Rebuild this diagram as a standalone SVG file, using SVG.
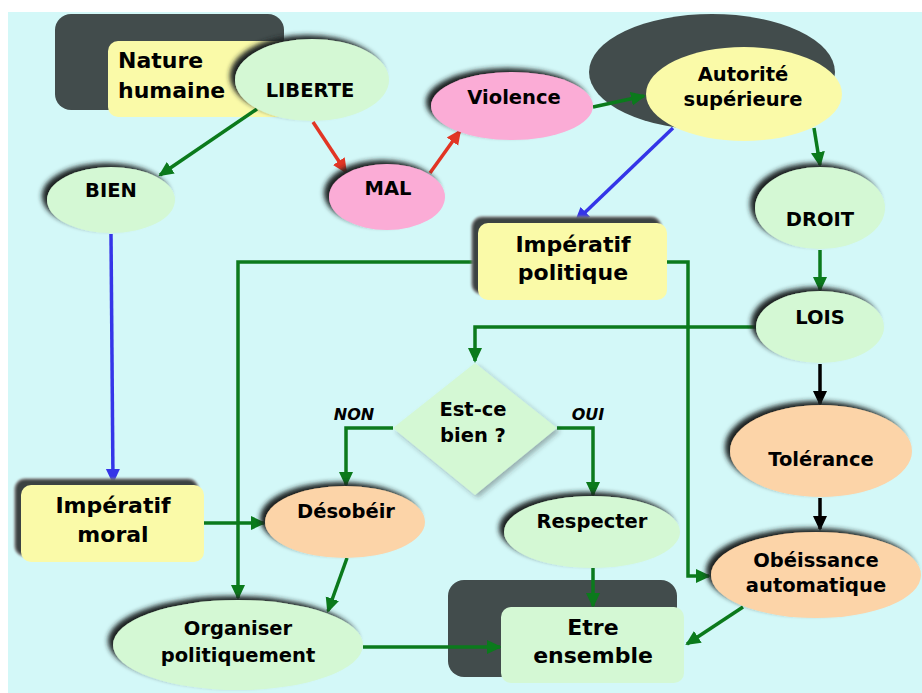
<svg xmlns="http://www.w3.org/2000/svg" width="922" height="693" viewBox="0 0 922 693">
<defs>
<style>
text{font-family:"DejaVu Sans","Verdana",sans-serif;font-weight:bold;fill:#000;text-anchor:middle}
.t{font-size:19.5px}
.r{font-size:22px}
.lab{font-size:16px;font-style:italic}
.g{fill:#d4f8d4}
.p{fill:#fbacd6}
.o{fill:#fcd4a8}
.y{fill:#fafaa8}
.dk{fill:#424c4c}
.c{fill:none;stroke-width:3.5}
.cg{stroke:#0b7a1c}
.cr{stroke:#e23524}
.cb{stroke:#3535e8}
.ck{stroke:#000}
</style>
<filter id="sh" x="-20%" y="-30%" width="140%" height="160%">
<feGaussianBlur in="SourceAlpha" stdDeviation="2.5"/>
<feOffset dx="-5" dy="-4" result="b"/>
<feFlood flood-color="#1e2424" flood-opacity="1"/>
<feComposite in2="b" operator="in"/>
<feMerge><feMergeNode/><feMergeNode in="SourceGraphic"/></feMerge>
</filter>
<filter id="shl" x="-20%" y="-30%" width="140%" height="160%">
<feGaussianBlur in="SourceAlpha" stdDeviation="2.5"/>
<feOffset dx="3" dy="3" result="b"/>
<feFlood flood-color="#2a3030" flood-opacity="0.35"/>
<feComposite in2="b" operator="in"/>
<feMerge><feMergeNode/><feMergeNode in="SourceGraphic"/></feMerge>
</filter>
<filter id="bl"><feGaussianBlur stdDeviation="1.2"/></filter>
<marker id="ag" markerUnits="userSpaceOnUse" markerWidth="16" markerHeight="16" refX="13" refY="8" orient="auto"><path d="M0,1 L15,8 L0,15 z" fill="#0b7a1c"/></marker>
<marker id="ar" markerUnits="userSpaceOnUse" markerWidth="16" markerHeight="16" refX="13" refY="8" orient="auto"><path d="M0,1 L15,8 L0,15 z" fill="#e23524"/></marker>
<marker id="ab" markerUnits="userSpaceOnUse" markerWidth="16" markerHeight="16" refX="13" refY="8" orient="auto"><path d="M0,1 L15,8 L0,15 z" fill="#3535e8"/></marker>
<marker id="ak" markerUnits="userSpaceOnUse" markerWidth="16" markerHeight="16" refX="13" refY="8" orient="auto"><path d="M0,1 L15,8 L0,15 z" fill="#000"/></marker>
</defs>
<rect x="0" y="0" width="922" height="693" fill="#fff"/>
<rect x="8" y="12" width="914" height="681" fill="#d3f8f8"/>

<g id="nature-humaine">
<rect class="dk" x="55" y="14" width="229" height="96" rx="16"/>
<rect class="y" x="108" y="41" width="180" height="76" rx="10"/>
<text class="r" x="118" y="68" style="text-anchor:start">Nature</text>
<text class="r" x="118" y="98" style="text-anchor:start">humaine</text>
</g>

<g id="autorite-back">
<ellipse class="dk" cx="712" cy="72" rx="123" ry="58"/>
</g>

<g id="etre-back">
<rect class="dk" x="448" y="580" width="229" height="97" rx="16"/>
</g>

<g id="connectors">
<line class="c cg" x1="257" y1="109" x2="160" y2="175" marker-end="url(#ag)"/>
<line class="c cr" x1="313" y1="122" x2="346" y2="172" marker-end="url(#ar)"/>
<line class="c cr" x1="430" y1="173" x2="460" y2="131" marker-end="url(#ar)"/>
<line class="c cg" x1="593" y1="107" x2="644" y2="96" marker-end="url(#ag)"/>
<line class="c cb" x1="673" y1="128" x2="576" y2="221" marker-end="url(#ab)"/>
<line class="c cg" x1="814" y1="128" x2="820" y2="165" marker-end="url(#ag)"/>
<line class="c cb" x1="111" y1="234" x2="113" y2="482" marker-end="url(#ab)"/>
<line class="c cg" x1="820" y1="250" x2="820" y2="290" marker-end="url(#ag)"/>
<line class="c ck" x1="820" y1="364" x2="820" y2="404" marker-end="url(#ak)"/>
<line class="c ck" x1="820" y1="498" x2="820" y2="529" marker-end="url(#ak)"/>
<polyline class="c cg" points="757,327 475,327 475,361" marker-end="url(#ag)"/>
<polyline class="c cg" points="478,262 238,262 238,598" marker-end="url(#ag)"/>
<polyline class="c cg" points="667,262 688,262 688,576 709,576" marker-end="url(#ag)"/>
<polyline class="c cg" points="393,428 346,428 346,485" marker-end="url(#ag)"/>
<polyline class="c cg" points="557,428 593,428 593,495" marker-end="url(#ag)"/>
<line class="c cg" x1="204" y1="523" x2="264" y2="523" marker-end="url(#ag)"/>
<line class="c cg" x1="347" y1="558" x2="328" y2="611" marker-end="url(#ag)"/>
<line class="c cg" x1="593" y1="568" x2="593" y2="606" marker-end="url(#ag)"/>
<line class="c cg" x1="363" y1="647" x2="500" y2="647" marker-end="url(#ag)"/>
<line class="c cg" x1="743" y1="607" x2="687" y2="644" marker-end="url(#ag)"/>
</g>

<g id="liberte">
<ellipse class="g" cx="312" cy="80" rx="77" ry="41" filter="url(#sh)"/>
<text class="t" x="310" y="97">LIBERTE</text>
</g>
<g id="bien">
<ellipse class="g" cx="111" cy="200" rx="64" ry="33" filter="url(#sh)"/>
<text class="t" x="111" y="197">BIEN</text>
</g>
<g id="mal">
<ellipse class="p" cx="387" cy="197" rx="58" ry="33" filter="url(#sh)"/>
<text class="t" x="388" y="195">MAL</text>
</g>
<g id="violence">
<ellipse class="p" cx="512" cy="106" rx="81" ry="34" filter="url(#sh)"/>
<text class="t" x="514" y="104">Violence</text>
</g>
<g id="autorite">
<ellipse class="y" cx="744" cy="94" rx="98" ry="47"/>
<text class="t" x="743" y="81">Autorité</text>
<text class="t" x="743" y="106">supérieure</text>
</g>
<g id="droit">
<ellipse class="g" cx="820" cy="208" rx="65" ry="41" filter="url(#sh)"/>
<text class="t" x="820" y="226">DROIT</text>
</g>
<g id="imperatif-politique">
<rect x="472" y="217" width="189" height="77" rx="10" fill="#3a4242" stroke="#888" stroke-width="1.5" filter="url(#bl)"/>
<rect class="y" x="478" y="223" width="189" height="77" rx="10"/>
<text class="r" x="573" y="252">Impératif</text>
<text class="r" x="573" y="280">politique</text>
</g>
<g id="lois">
<ellipse class="g" cx="820" cy="327" rx="64" ry="36" filter="url(#sh)"/>
<text class="t" x="820" y="324">LOIS</text>
</g>
<g id="tolerance">
<ellipse class="o" cx="821" cy="451" rx="91" ry="46" filter="url(#sh)"/>
<text class="t" x="821" y="466">Tolérance</text>
</g>
<g id="est-ce-bien">
<polygon class="g" points="475,363 557,428 475,495 393,428" filter="url(#shl)"/>
<text class="t" x="473" y="416">Est-ce</text>
<text class="t" x="473" y="442">bien ?</text>
</g>
<g id="labels">
<text class="lab" x="354" y="420">NON</text>
<text class="lab" x="588" y="420">OUI</text>
</g>
<g id="imperatif-moral">
<rect x="15" y="479" width="183" height="77" rx="10" fill="#3a4242" stroke="#888" stroke-width="1.5" filter="url(#bl)"/>
<rect class="y" x="21" y="485" width="183" height="77" rx="10"/>
<text class="r" x="113" y="513">Impératif</text>
<text class="r" x="113" y="542">moral</text>
</g>
<g id="desobeir">
<ellipse class="o" cx="345" cy="522" rx="80" ry="36" filter="url(#sh)"/>
<text class="t" x="346" y="518">Désobéir</text>
</g>
<g id="respecter">
<ellipse class="g" cx="592" cy="532" rx="88" ry="36" filter="url(#sh)"/>
<text class="t" x="592" y="528">Respecter</text>
</g>
<g id="obeissance">
<ellipse class="o" cx="816" cy="575" rx="105" ry="43" filter="url(#sh)"/>
<text class="t" x="816" y="567">Obéissance</text>
<text class="t" x="816" y="592">automatique</text>
</g>
<g id="organiser">
<ellipse class="g" cx="238" cy="645" rx="125" ry="45" filter="url(#sh)"/>
<text class="t" x="238" y="635">Organiser</text>
<text class="t" x="238" y="662">politiquement</text>
</g>
<g id="etre-ensemble">
<rect class="g" x="501" y="607" width="183" height="76" rx="10"/>
<text class="r" x="593" y="635">Etre</text>
<text class="r" x="593" y="663">ensemble</text>
</g>
</svg>
